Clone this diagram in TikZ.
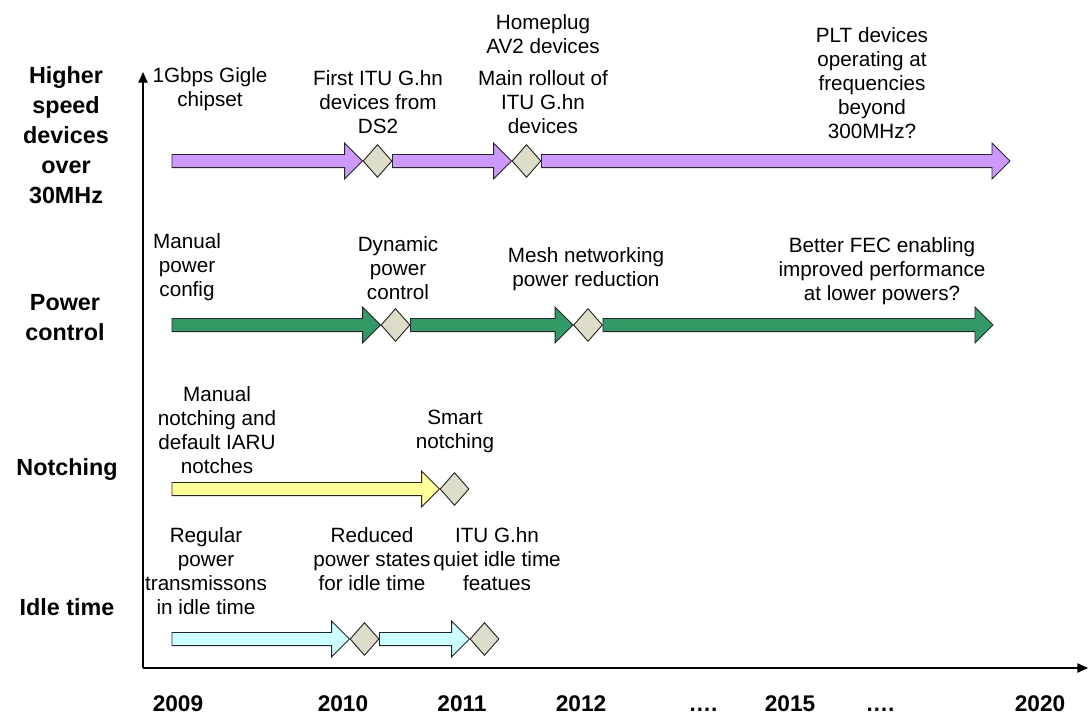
\documentclass[tikz,border=0pt]{standalone}
\usepackage{fontspec}
\setmainfont{Liberation Sans}
\usetikzlibrary{calc,shapes.geometric,arrows.meta}

\definecolor{purplefill}{HTML}{CC99FF}
\definecolor{greenfill}{HTML}{339966}
\definecolor{yellowfill}{HTML}{FFFF99}
\definecolor{cyanfill}{HTML}{CCFFFF}
\definecolor{gemfill}{HTML}{DDDDCA}
\definecolor{edge}{HTML}{262626}

\tikzset{
  arrowline/.style={draw=edge, line width=0.7pt, line join=miter},
  gem/.style={diamond, draw=edge, line width=0.7pt, fill=gemfill, inner sep=0pt,
    minimum width=21.75pt, minimum height=24.75pt},
  axisline/.style={draw=black, line width=0.9pt, -{Triangle[length=8pt,width=7pt]}},
  rowlabel/.style={font=\fontsize{17.5}{22.5}\selectfont\bfseries, align=center},
  event/.style={font=\fontsize{15.5}{18}\selectfont, align=center, inner sep=0pt},
  year/.style={font=\fontsize{17}{20}\selectfont\bfseries, inner sep=0pt, anchor=base}
}

% block arrow from a start point to the left tip of a milestone
\newcommand\blockarrow[3]{%
  \draw[arrowline, fill=#3] let \p1=(#1), \p2=(#2) in
    (\x1,\y1+4.9pt) -- (\x2-13.5pt,\y1+4.9pt) -- (\x2-13.5pt,\y1+13.5pt) --
    (\x2,\y1) -- (\x2-13.5pt,\y1-13.5pt) -- (\x2-13.5pt,\y1-4.9pt) --
    (\x1,\y1-4.9pt) -- cycle;}

\begin{document}
\begin{tikzpicture}[x=0.75pt, y=-0.75pt]
\useasboundingbox (0,0) rectangle (1088,715);

% axes
\coordinate (o) at (143,668);
\coordinate (xend) at (1088,668);
\coordinate (yend) at (143,72);
\draw[axisline] (o) -- (xend);
\draw[axisline] (o) -- (yend);

% row labels
\node[rowlabel] (lab1) at (66,135.5) {Higher\\speed\\devices\\over\\30MHz};
\node[rowlabel] (lab2) at (65,318) {Power\\control};
\node[rowlabel] (lab3) at (67,470) {Notching};
\node[rowlabel] (lab4) at (67,607) {Idle time};

% years (shared baseline)
\node[year] (y09) at (178,711.5) {2009};
\node[year] (y10) at (343,711.5) {2010};
\node[year] (y11) at (462,711.5) {2011};
\node[year] (y12) at (581,711.5) {2012};
\node[year] (dots1) at (703,711.5) {….};
\node[year] (y15) at (790,711.5) {2015};
\node[year] (dots2) at (880,711.5) {….};
\node[year] (y20) at (1040,711.5) {2020};

% higher speed devices
\coordinate (s1) at (172,161);
\node[gem] (p1) at (377.5,161) {};
\node[gem] (p2) at (526.5,161) {};
\coordinate (e1) at (1010,161);
\blockarrow{s1}{p1.west}{purplefill}
\blockarrow{p1.east}{p2.west}{purplefill}
\blockarrow{p2.east}{e1}{purplefill}
\node[event] (t11) at (210,89) {1Gbps Gigle\\chipset};
\node[event] (t12) at (378,102) {First ITU G.hn\\devices from\\DS2};
\node[event] (t13a) at (543,34.5) {Homeplug\\AV2 devices};
\node[event] (t13b) at (543,102) {Main rollout of\\ITU G.hn\\devices};
\node[event] (t14) at (872,83) {PLT devices\\operating at\\frequencies\\beyond\\300MHz?};

% power control
\coordinate (s2) at (172,325);
\node[gem] (g1) at (395.5,325) {};
\node[gem] (g2) at (588,325) {};
\coordinate (e2) at (993,325);
\blockarrow{s2}{g1.west}{greenfill}
\blockarrow{g1.east}{g2.west}{greenfill}
\blockarrow{g2.east}{e2}{greenfill}
\node[event] (t21) at (187,267) {Manual\\power\\config};
\node[event] (t22) at (398,268.5) {Dynamic\\power\\control};
\node[event] (t23) at (586,269.5) {Mesh networking\\power reduction};
\node[event] (t24) at (882,271.5) {Better FEC enabling\\improved performance\\at lower powers?};

% notching
\coordinate (s3) at (172,489);
\node[gem] (n1) at (454.5,489) {};
\blockarrow{s3}{n1.west}{yellowfill}
\node[event] (t31) at (217,430.5) {Manual\\notching and\\default IARU\\notches};
\node[event] (t32) at (455,431) {Smart\\notching};

% idle time
\coordinate (s4) at (172,639);
\node[gem] (i1) at (364.5,639) {};
\node[gem] (i2) at (484.5,639) {};
\blockarrow{s4}{i1.west}{cyanfill}
\blockarrow{i1.east}{i2.west}{cyanfill}
\node[event] (t41) at (206,571.5) {Regular\\power\\transmissons\\in idle time};
\node[event] (t42) at (372,559.5) {Reduced\\power states\\for idle time};
\node[event] (t43) at (497,559.5) {ITU G.hn\\quiet idle time\\featues};
\end{tikzpicture}
\end{document}
